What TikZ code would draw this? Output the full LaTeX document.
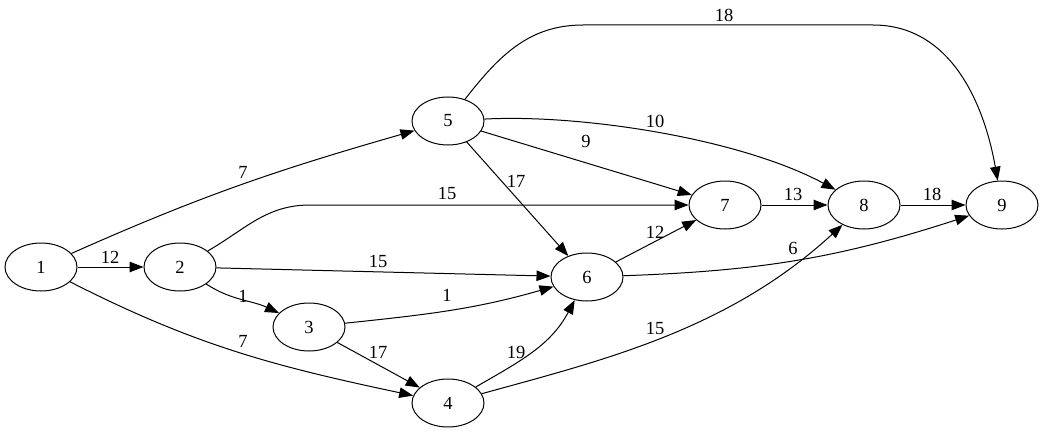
\documentclass[tikz,border=0pt]{standalone}
\usepackage{fontspec}
\setmainfont{Liberation Serif}
\usetikzlibrary{arrows.meta,shapes.geometric}
\begin{document}
\begin{tikzpicture}[x=1pt,y=1pt,
  vtx/.style={draw,ellipse,line width=1pt,minimum width=72pt,minimum height=48pt,inner sep=0pt,font=\fontsize{18.5}{20}\selectfont},
  arr/.style={line width=1pt,-{Triangle[length=14pt,width=10.5pt]}},
  lbl/.style={inner sep=0pt,font=\fontsize{18.5}{20}\selectfont}]
\useasboundingbox (0,0) rectangle (1044,432);
\node[vtx] (n1) at (41,165) {1};
\node[vtx] (n2) at (180,165) {2};
\node[vtx] (n3) at (309,105) {3};
\node[vtx] (n4) at (448,29) {4};
\node[vtx] (n5) at (448,311) {5};
\node[vtx] (n6) at (587,155) {6};
\node[vtx] (n7) at (725,227) {7};
\node[vtx] (n8) at (864,227) {8};
\node[vtx] (n9) at (1002,227) {9};
\coordinate (c27) at (310,227);
\coordinate (c59a) at (583,407);
\coordinate (c59b) at (873,407);
% edges
\draw[arr] (n1) -- (n2);
\draw[arr] (n1) to[out=24,in=196] (n5);
\draw[arr] (n1) to[out=-27,in=168] (n4);
\draw[arr] (n2) to[out=-33,in=155] (n3);
\draw[arr] (n2) -- (n6);
\draw[arr] (n2) to[out=30,in=180] (c27) -- (n7);
\draw[arr] (n3) to[out=6,in=196] (n6);
\draw[arr] (n3) -- (n4);
\draw[arr] (n4) to[out=30,in=-118] (n6);
\draw[arr] (n4) .. controls (604,72) and (728,102) .. (n8);
\draw[arr] (n5) to[out=52,in=180] (c59a) -- (c59b) to[out=0,in=100] (n9);
\draw[arr] (n5) .. controls (580,318) and (739,294) .. (n8);
\draw[arr] (n5) -- (n7);
\draw[arr] (n5) -- (n6);
\draw[arr] (n6) -- (n7);
\draw[arr] (n6) to[out=2,in=198] (n9);
\draw[arr] (n7) -- (n8);
\draw[arr] (n8) -- (n9);
% labels
\node[lbl] (l12) at (110,175) {12};
\node[lbl] (l15) at (243,260) {7};
\node[lbl] (l14) at (243,91) {7};
\node[lbl] (l23) at (243,136) {1};
\node[lbl] (l26) at (378,171) {15};
\node[lbl] (l27) at (447,239) {15};
\node[lbl] (l36) at (447,137) {1};
\node[lbl] (l34) at (378,80) {17};
\node[lbl] (l46) at (516,80) {19};
\node[lbl] (l48) at (655,104) {15};
\node[lbl] (l59) at (724,417) {18};
\node[lbl] (l58) at (655,311) {10};
\node[lbl] (l57) at (586,291) {9};
\node[lbl] (l56) at (516,251) {17};
\node[lbl] (l67) at (655,200) {12};
\node[lbl] (l69) at (793,184) {6};
\node[lbl] (l78) at (793,238) {13};
\node[lbl] (l89) at (932,238) {18};
\end{tikzpicture}
\end{document}
